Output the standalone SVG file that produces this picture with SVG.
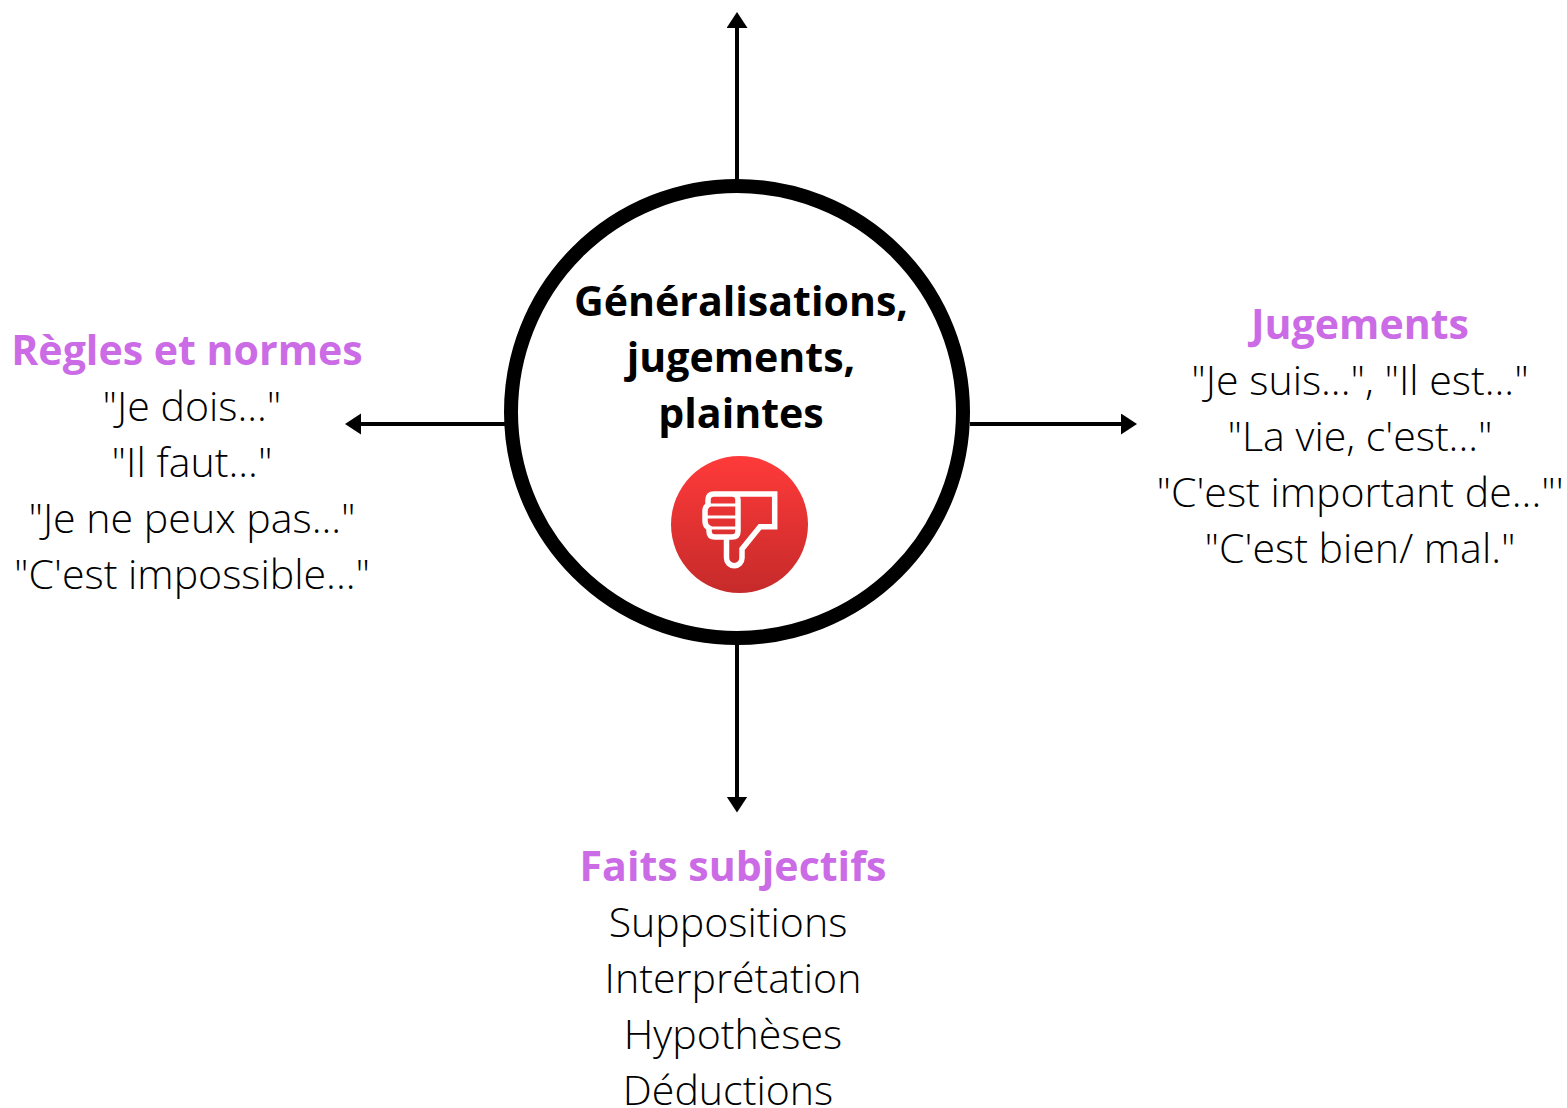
<svg xmlns="http://www.w3.org/2000/svg" width="1567" height="1108" viewBox="0 0 1567 1108">
<style>
.h{font-family:"Open Sans",sans-serif;font-weight:700;font-size:41.1px;fill:#cb6ce6;text-anchor:middle}
.t{font-family:"Open Sans",sans-serif;font-weight:300;font-size:41.1px;fill:#000;text-anchor:middle}
.c{font-family:"Open Sans",sans-serif;font-weight:700;font-size:41.1px;fill:#000;text-anchor:middle}
.l{stroke:#000;stroke-width:4;fill:none}
</style>
<defs>
<marker id="a" markerUnits="userSpaceOnUse" markerWidth="18" markerHeight="22" refX="1" refY="10.500" orient="auto"><path d="M0 0L16 10.500L0 21z" fill="#000"/></marker>
<linearGradient id="g" x1="0" y1="0" x2="0" y2="1"><stop offset="0" stop-color="#ff3a3a"/><stop offset="1" stop-color="#c62a2a"/></linearGradient>
</defs>
<rect width="1567" height="1108" fill="#fff"/>
<g id="connectors">
<path class="l" d="M737 180V27" marker-end="url(#a)"/>
<path class="l" d="M737 644V797.500" marker-end="url(#a)"/>
<path class="l" d="M505 424H360" marker-end="url(#a)"/>
<path class="l" d="M970 424H1122" marker-end="url(#a)"/>
</g>
<g id="center">
<circle cx="737" cy="412" r="226" fill="#fff" stroke="#000" stroke-width="14"/>
<text class="c" x="741" y="316">Généralisations,</text>
<text class="c" x="741" y="372">jugements,</text>
<text class="c" x="741" y="428">plaintes</text>
<circle cx="739.500" cy="524.500" r="68.500" fill="url(#g)"/>
<g fill="none" stroke="#fff" stroke-width="5.500" stroke-linejoin="miter">
<path d="M738 494H714Q708 494 708 500V505Q705 507 705 511V521Q705 526 709 528V531Q709 537 715 537H732Q738 537 738 531V500Q738 494 732 494"/>
<path d="M726.500 537V558A7.700 7.700 0 0 0 742 558V549L760 526.700H774.700V494H738"/>
</g>
<path d="M706 505H738M706 517H738M708 528H738" fill="none" stroke="#fff" stroke-width="3"/>
</g>
<g id="left">
<text class="h" x="187" y="365">Règles et normes</text>
<text class="t" x="192" y="421">"Je dois..."</text>
<text class="t" x="192" y="477">"Il faut..."</text>
<text class="t" x="192" y="533">"Je ne peux pas..."</text>
<text class="t" x="192" y="589">"C'est impossible..."</text>
</g>
<g id="right">
<text class="h" x="1360" y="339">Jugements</text>
<text class="t" x="1360" y="395">"Je suis...", "Il est..."</text>
<text class="t" x="1360" y="451">"La vie, c'est..."</text>
<text class="t" x="1360" y="507">"C'est important de..."'</text>
<text class="t" x="1360" y="563">"C'est bien/ mal."</text>
</g>
<g id="bottom">
<text class="h" x="733" y="881">Faits subjectifs</text>
<text class="t" x="728" y="937">Suppositions</text>
<text class="t" x="733" y="993">Interprétation</text>
<text class="t" x="733" y="1049">Hypothèses</text>
<text class="t" x="728" y="1105">Déductions</text>
</g>
</svg>
